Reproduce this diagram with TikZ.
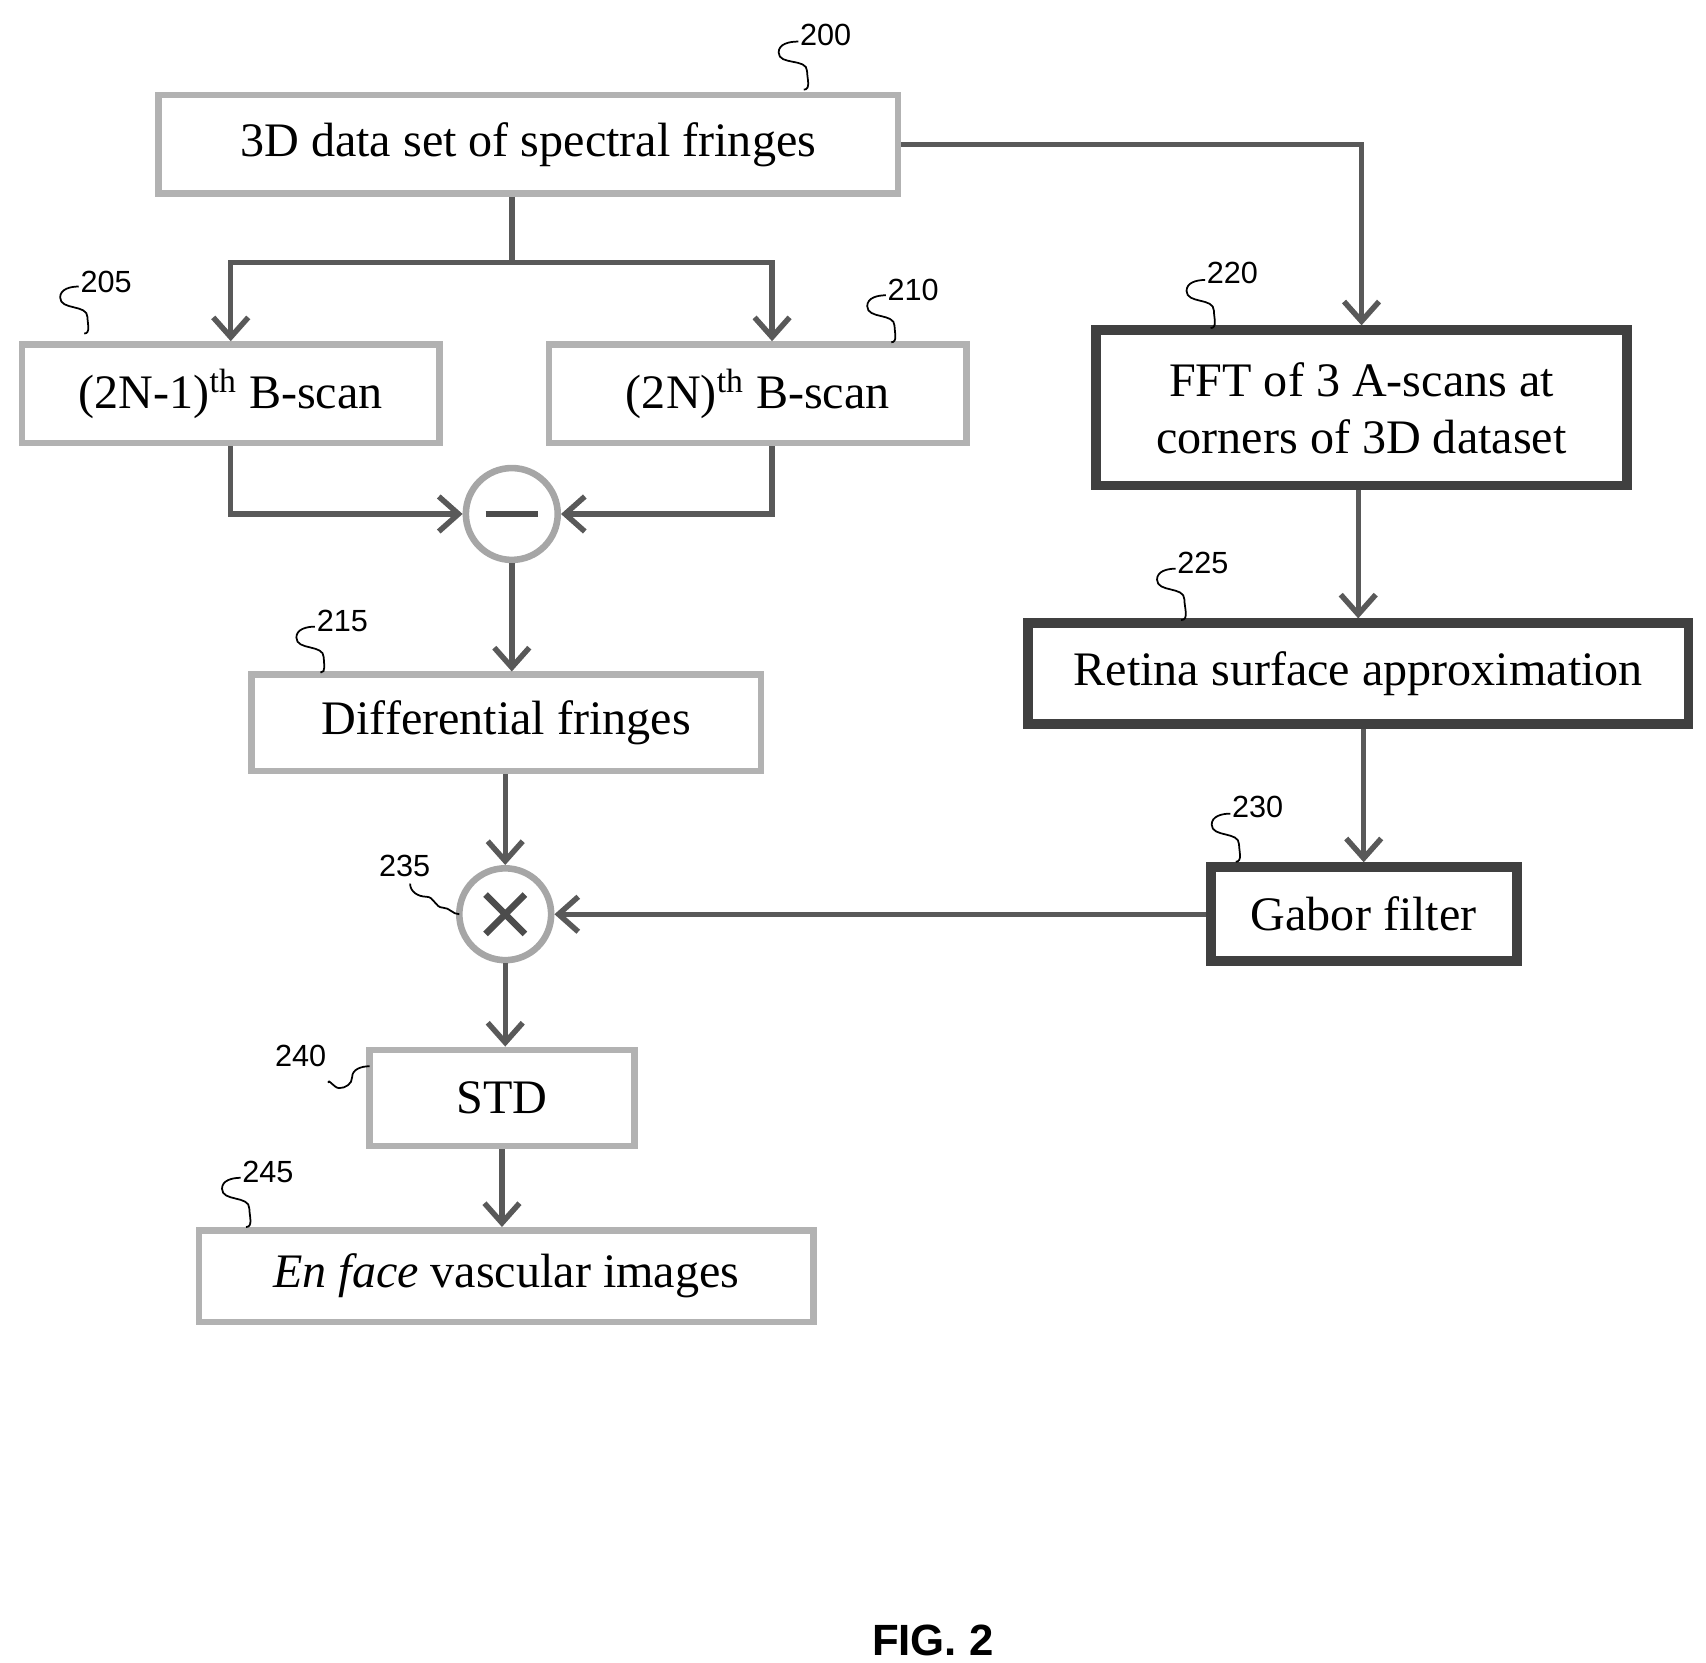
\documentclass[tikz,border=0pt]{standalone}
\usepackage{fontspec}
\setmainfont{Liberation Serif}
\setsansfont{Liberation Sans}
\usetikzlibrary{arrows.meta}
\begin{document}
\begin{tikzpicture}[x=0.5pt,y=-0.5pt,
  lbox/.style={draw=gray!60,line width=3pt,fill=white,inner sep=0pt,font=\fontsize{22}{26}\selectfont},
  dbox/.style={draw=black!75,line width=4.5pt,fill=white,inner sep=0pt,font=\fontsize{22}{26}\selectfont,align=center},
  circ/.style={draw=gray!70,line width=3pt,circle,minimum size=42pt,inner sep=0pt},
  arr/.style={draw=black!65,line width=2.5pt,-{Straight Barb[length=9pt,width=16pt,line width=2.5pt]}},
  num/.style={font=\sffamily\fontsize{14}{16}\selectfont},
  sq/.style={draw=black,line width=0.8pt}]
\useasboundingbox (0,0) rectangle (1560,1520);
\node[lbox,minimum width=338pt,minimum height=45pt] (b200) at (483,132) {3D data set of spectral fringes};
\node[lbox,minimum width=191pt,minimum height=45pt] (b205) at (211,360) {(2N-1)\textsuperscript{th} B-scan};
\node[lbox,minimum width=191pt,minimum height=45pt] (b210) at (693,360) {(2N)\textsuperscript{th} B-scan};
\node[dbox,minimum width=243pt,minimum height=71pt] (b220) at (1245,373) {FFT of 3 A-scans at\\corners of 3D dataset};
\node[circ] (minus) at (468,470) {};
\draw[line width=3pt,black!70] ([xshift=-12pt]minus.center) -- ([xshift=12pt]minus.center);
\node[lbox,minimum width=233pt,minimum height=44pt] (b215) at (463,661) {Differential fringes};
\node[dbox,minimum width=302pt,minimum height=46pt] (b225) at (1242,616) {Retina surface approximation};
\node[dbox,minimum width=140pt,minimum height=43pt] (b230) at (1247,836) {Gabor filter};
\node[circ] (times) at (462,836) {};
\draw[line width=3pt,black!70] ([shift={(-9pt,-9pt)}]times.center) -- ([shift={(9pt,9pt)}]times.center)
  ([shift={(-9pt,9pt)}]times.center) -- ([shift={(9pt,-9pt)}]times.center);
\node[lbox,minimum width=121pt,minimum height=44pt] (b240) at (459,1004) {STD};
\node[lbox,minimum width=281pt,minimum height=42pt] (b245) at (463,1167) {\textit{En face} vascular images};
\node[font=\sffamily\bfseries\fontsize{20}{24}\selectfont] (fig) at (853,1500) {FIG. 2};
% connectors
\coordinate (j) at (468,240);
\coordinate (r) at (706,240);
\draw[line width=2.5pt,black!65] (b200.south -| j) -- (j);
\draw[arr] (j) -| (b205.north);
\draw[arr] (j) -- (r) -- (r |- b210.north);
\draw[arr] (b200.east) -| (b220.north);
\draw[arr] (b205.south) |- (minus.west);
\draw[arr] (b210.south -| r) |- (minus.east);
\draw[arr] (minus.south) -- (minus.south |- b215.north);
\draw[arr] (b215.south -| times) -- (times.north);
\draw[arr] (b220.south -| b225) -- (b225.north);
\draw[arr] (b225.south -| b230) -- (b230.north);
\draw[arr] (b230.west) -- (times.east);
\draw[arr] (times.south) -- (times.south |- b240.north);
\draw[arr] (b240.south) -- (b240.south |- b245.north);
% reference numerals
\node[num] (n200) at (755,32) {200};
\draw[sq] (730,38) to[out=180,in=90] (712,48) to[out=270,in=90] (738,65) to[out=270,in=0] (735,82);
\node[num] (n205) at (97,258) {205};
\draw[sq] (72,262) to[out=180,in=90] (55,272) to[out=270,in=90] (80,290) to[out=270,in=0] (77,305);
\node[num] (n210) at (835,265) {210};
\draw[sq] (810,270) to[out=180,in=90] (793,280) to[out=270,in=90] (818,298) to[out=270,in=0] (815,313);
\node[num] (n215) at (313,568) {215};
\draw[sq] (288,573) to[out=180,in=90] (271,583) to[out=270,in=90] (296,601) to[out=270,in=0] (293,615);
\node[num] (n220) at (1127,250) {220};
\draw[sq] (1102,256) to[out=180,in=90] (1085,266) to[out=270,in=90] (1110,284) to[out=270,in=0] (1107,300);
\node[num] (n225) at (1100,515) {225};
\draw[sq] (1075,520) to[out=180,in=90] (1058,530) to[out=270,in=90] (1083,548) to[out=270,in=0] (1080,567);
\node[num] (n230) at (1150,738) {230};
\draw[sq] (1125,744) to[out=180,in=90] (1108,754) to[out=270,in=90] (1133,772) to[out=270,in=0] (1130,788);
\node[num] (n235) at (370,792) {235};
\draw[sq] (375,808) to[out=270,in=180] (390,820) to[out=0,in=180] (405,830) to[out=0,in=180] (420,836);
\node[num] (n240) at (275,966) {240};
\draw[sq] (338,975) to[out=180,in=90] (322,985) to[out=270,in=0] (310,995) to[out=180,in=90] (300,990);
\node[num] (n245) at (245,1072) {245};
\draw[sq] (220,1077) to[out=180,in=90] (203,1087) to[out=270,in=90] (228,1105) to[out=270,in=0] (225,1122);
\end{tikzpicture}
\end{document}
